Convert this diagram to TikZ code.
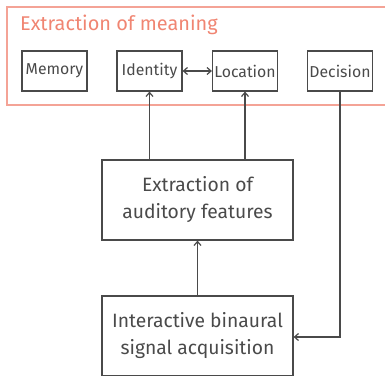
\documentclass[tikz,border=0pt]{standalone}
\usepackage{fontspec}
\setmainfont{Fira Sans}
\usetikzlibrary{arrows.meta}
\definecolor{frame}{HTML}{F4A396}
\definecolor{titlec}{HTML}{F08572}
\definecolor{ink}{HTML}{4A4A4A}
\begin{document}
\begin{tikzpicture}[x=1pt,y=-1pt,
  box/.style={draw=ink,line width=1.2pt,text=ink,align=center,inner sep=0pt},
  small/.style={box,minimum width=65pt,minimum height=40pt,font=\fontsize{15.8}{18}\selectfont},
  big/.style={box,minimum width=191pt,minimum height=80pt,font=\fontsize{19.3}{27}\selectfont},
  conn/.style={draw=ink,line width=1.2pt,-{Straight Barb[length=4pt,width=7pt]}}]
\useasboundingbox (0,0) rectangle (385,375);
\begin{scope}
\clip (0,0) rectangle (385,375);
\draw[frame,line width=1.2pt] (390,7) -- (7,7) -- (7,105) -- (390,105);
\node[small] (mem) at (54.5,71) {Memory};
\node[small] (idn) at (149.5,71) {Identity};
\node[small] (loc) at (245,71) {Location};
\node[small] (dec) at (340,71) {Decision};
\node[big] (feat) at (197.5,200) {Extraction of\\auditory features};
\node[big] (acq) at (197.5,336) {Interactive binaural\\signal acquisition};
\end{scope}
\node[anchor=base west,text=titlec,font=\fontsize{19.9}{22}\selectfont,inner sep=0pt] (title) at (20,30) {Extraction of meaning};
\draw[conn,{Straight Barb[length=4pt,width=7pt]}-{Straight Barb[length=4pt,width=7pt]}] (idn) -- (loc);
\draw[conn] (feat.north -| idn) -- (idn);
\draw[conn] (feat.north -| loc) -- (loc);
\draw[conn] (acq.north -| feat) -- (feat);
\coordinate (turn) at (340,337);
\draw[conn] (dec) |- (acq.east |- turn);
\end{tikzpicture}
\end{document}
